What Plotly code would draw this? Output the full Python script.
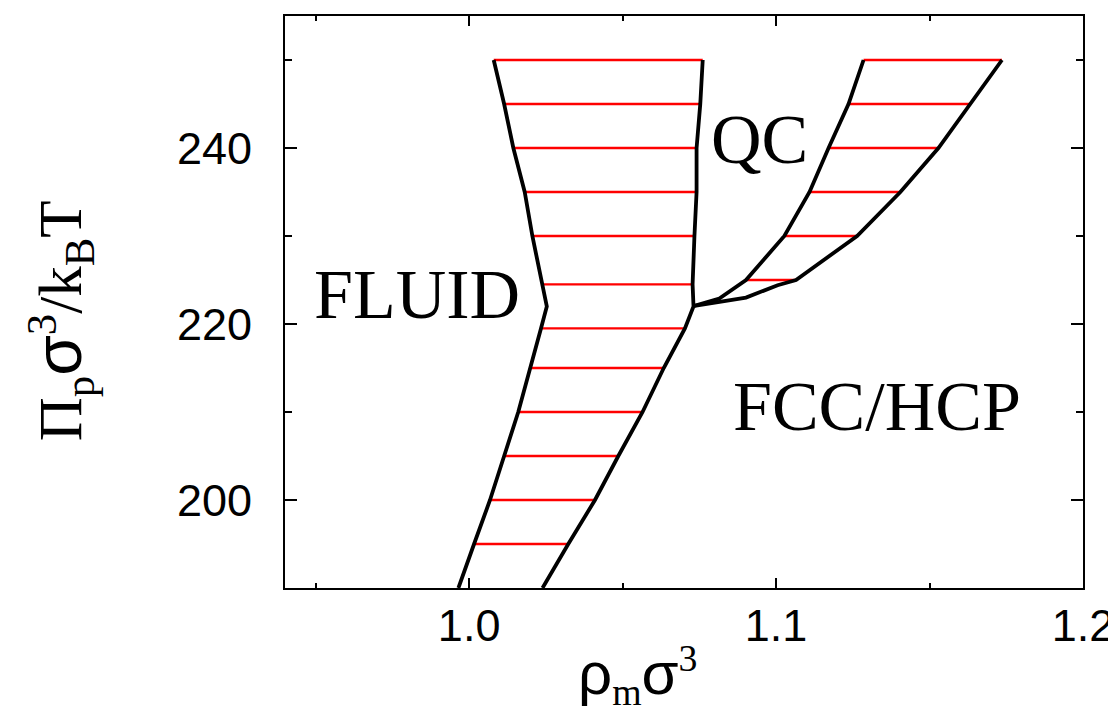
import plotly.graph_objects as go

# Fluid / solid coexistence region (left boundary = fluid, right boundary = solid)
fluid_left_y = [250, 245, 240, 235, 230, 224.5, 222, 219.5, 215, 210, 205, 200, 195, 190]
fluid_left_x = [1.0080, 1.0114, 1.0144, 1.0181, 1.0206, 1.0237, 1.0253, 1.0234, 1.0198, 1.0160, 1.0114, 1.0068, 1.0016, 0.9965]
fluid_right_y = [250, 245, 240, 235, 230, 224.5, 222, 219.5, 215, 210, 205, 200, 195, 190]
fluid_right_x = [1.0761, 1.0753, 1.0741, 1.0741, 1.0734, 1.0728, 1.0731, 1.0703, 1.0634, 1.0565, 1.0486, 1.0410, 1.0323, 1.0239]

# QC / FCC coexistence region
qc_y = [250, 245, 240, 235, 230, 225, 222.9, 222.07]
qc_x = [1.1285, 1.1236, 1.1171, 1.1109, 1.1027, 1.0902, 1.0815, 1.0734]
fcc_y = [250, 245, 240, 235, 230, 225, 224.4, 223.0, 222.07]
fcc_x = [1.1736, 1.1632, 1.1529, 1.1405, 1.1264, 1.1065, 1.1005, 1.0902, 1.0734]

# Tie lines (red)
tie1_y = [250, 245, 240, 235, 230, 224.5, 219.5, 215, 210, 205, 200, 195]
tie1_x0 = [1.0080, 1.0114, 1.0144, 1.0181, 1.0206, 1.0237, 1.0234, 1.0198, 1.0160, 1.0114, 1.0068, 1.0016]
tie1_x1 = [1.0761, 1.0753, 1.0741, 1.0741, 1.0734, 1.0728, 1.0703, 1.0634, 1.0565, 1.0486, 1.0410, 1.0323]
tie2_y = [250, 245, 240, 235, 230, 225]
tie2_x0 = [1.1285, 1.1236, 1.1171, 1.1109, 1.1027, 1.0902]
tie2_x1 = [1.1736, 1.1632, 1.1529, 1.1405, 1.1264, 1.1065]

x_ticks = [1.0, 1.1, 1.2]
x_ticklabels = ["1.0", "1.1", "1.2"]
y_ticks = [200, 220, 240]
y_ticklabels = ["200", "220", "240"]

fig = go.Figure()

# red tie lines
tx, ty = [], []
for y, a, b in zip(tie1_y, tie1_x0, tie1_x1):
    tx += [a, b, None]
    ty += [y, y, None]
for y, a, b in zip(tie2_y, tie2_x0, tie2_x1):
    tx += [a, b, None]
    ty += [y, y, None]
fig.add_trace(go.Scatter(x=tx, y=ty, mode="lines", line=dict(color="#ff0000", width=2.4),
                         hoverinfo="skip", showlegend=False))

for xs, ys in [(fluid_left_x, fluid_left_y), (fluid_right_x, fluid_right_y),
               (qc_x, qc_y), (fcc_x, fcc_y)]:
    fig.add_trace(go.Scatter(x=xs, y=ys, mode="lines", line=dict(color="black", width=3.8),
                             showlegend=False))

serif = "Liberation Serif, Times New Roman, serif"
sans = "Liberation Sans, Arial, sans-serif"

axis_common = dict(
    showgrid=False, zeroline=False, showline=True, linecolor="black", linewidth=2,
    mirror="allticks", ticks="inside", tickcolor="black", tickwidth=2,
    tickfont=dict(family=sans, size=45, color="black"),
)

fig.update_xaxes(range=[0.94, 1.2], tickvals=x_ticks, ticktext=x_ticklabels, ticklen=10,
                 minor=dict(tickvals=[0.95, 1.05, 1.15], ticklen=5, ticks="inside",
                            tickcolor="black", tickwidth=2),
                 ticklabelstandoff=-3, **axis_common)
fig.update_yaxes(range=[190, 255], tickvals=y_ticks, ticktext=y_ticklabels, ticklen=12,
                 minor=dict(tickvals=[210, 230, 250], ticklen=7, ticks="inside",
                            tickcolor="black", tickwidth=2),
                 ticklabelstandoff=22, **axis_common)

ann = [
    dict(x=0.9830, y=223.4, text="FLUID", size=70),
    dict(x=1.0945, y=241.0, text="QC", size=70),
    dict(x=1.1330, y=210.6, text="FCC/HCP", size=70),
]
for a in ann:
    fig.add_annotation(x=a["x"], y=a["y"], xref="x", yref="y", text=a["text"], showarrow=False,
                       font=dict(family=serif, size=a["size"], color="black"),
                       xanchor="center", yanchor="middle")

fig.add_annotation(
    xref="paper", yref="paper", x=0.442, y=-0.152, showarrow=False,
    text=f"<span style='font-family:{sans};font-size:60px'>ρ</span><sub>m</sub>"
         f"<span style='font-family:{sans};font-size:60px'>σ</span><sup>3</sup>",
    font=dict(family=serif, size=54, color="black"), xanchor="center", yanchor="middle")

fig.add_annotation(
    xref="paper", yref="paper", x=-0.282, y=0.468, showarrow=False, textangle=-90,
    text=f"Π<sub>p</sub><span style='font-family:{sans};font-size:66px'>σ</span><sup>3</sup>/k<sub>B</sub>T",
    font=dict(family=serif, size=61, color="black"), xanchor="center", yanchor="middle")

fig.update_layout(
    width=1116, height=717,
    margin=dict(l=277, r=41, t=6, b=137),
    paper_bgcolor="white", plot_bgcolor="white",
    showlegend=False,
)

fig.write_html("out.html")
